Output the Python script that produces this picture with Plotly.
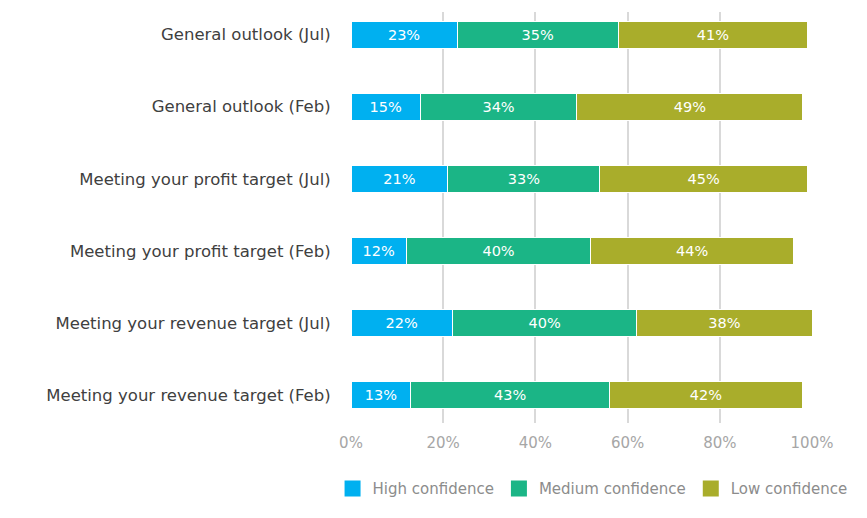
import plotly.graph_objects as go

categories = [
    "General outlook (Jul)",
    "General outlook (Feb)",
    "Meeting your profit target (Jul)",
    "Meeting your profit target (Feb)",
    "Meeting your revenue target (Jul)",
    "Meeting your revenue target (Feb)",
]
high = [23, 15, 21, 12, 22, 13]
medium = [35, 34, 33, 40, 40, 43]
low = [41, 49, 45, 44, 38, 42]
series_names = ["High confidence", "Medium confidence", "Low confidence"]
colors = ["#00B0F0", "#1BB586", "#A9AD2B"]
x_ticks = [0, 20, 40, 60, 80, 100]

FONT = "DejaVu Sans"

fig = go.Figure()
for name, vals, col in zip(series_names, [high, medium, low], colors):
    fig.add_trace(go.Bar(
        y=categories, x=vals, name=name, orientation="h",
        marker=dict(color=col, line=dict(color="white", width=1)),
        text=[f"{v}%" for v in vals], textposition="inside",
        insidetextanchor="middle",
        textfont=dict(color="white", size=14.5, family=FONT),
        hoverinfo="skip", showlegend=False,
    ))
# legend entries with larger square swatches
for name, col in zip(series_names, colors):
    fig.add_trace(go.Scatter(
        x=[None], y=[None], mode="markers", name=name,
        marker=dict(symbol="square", size=18, color=col),
        hoverinfo="skip", showlegend=True,
    ))

fig.update_layout(
    barmode="stack",
    bargap=0.626,
    width=867, height=518,
    margin=dict(l=351, r=55, t=12, b=95),
    plot_bgcolor="white", paper_bgcolor="white",
    font=dict(family=FONT),
    showlegend=True,
    legend=dict(orientation="h",
                x=-0.04, xanchor="left", y=-0.16, yanchor="middle",
                font=dict(size=15, color="#8C8C8C", family=FONT),
                traceorder="normal", itemsizing="trace"),
    xaxis=dict(range=[0, 100], tickvals=x_ticks, ticktext=[f"{t}%" for t in x_ticks],
               showgrid=True, gridcolor="#D9D9D9", gridwidth=2, zeroline=False,
               ticks="outside", ticklen=6, tickcolor="rgba(0,0,0,0)",
               tickfont=dict(size=15, color="#A6A6A6", family=FONT),
               showline=False),
    yaxis=dict(categoryorder="array", categoryarray=categories,
               range=[5.384, -0.312], showgrid=False, zeroline=False,
               ticks="outside", ticklen=16, tickcolor="rgba(0,0,0,0)",
               tickfont=dict(size=16.5, color="#404040", family=FONT)),
)

fig.write_html("out.html")
